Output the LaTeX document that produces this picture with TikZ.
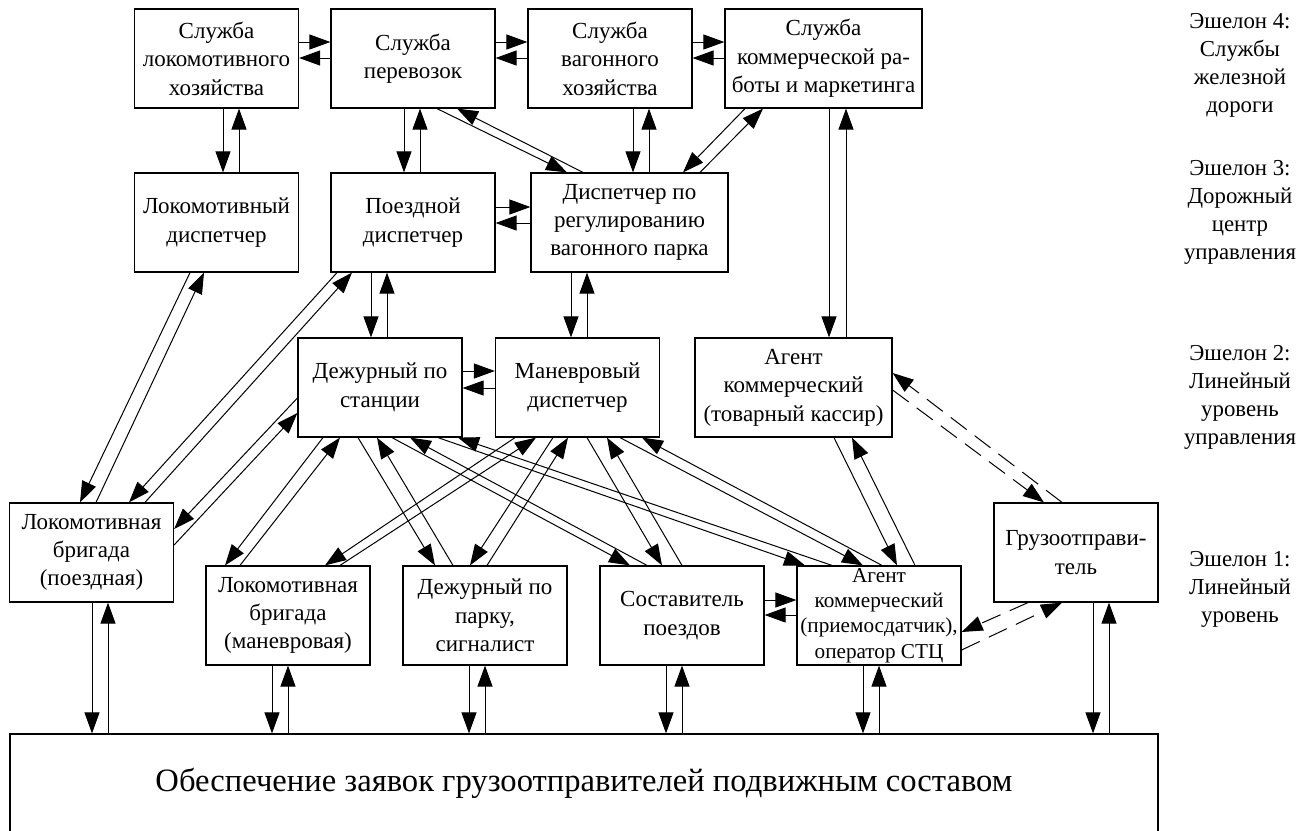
\documentclass[tikz,border=0pt]{standalone}
\usepackage{fontspec}
\setmainfont{Liberation Serif}
\usetikzlibrary{arrows.meta,calc}
\begin{document}
\begin{tikzpicture}[x=0.5pt,y=-0.5pt,
  box/.style={draw,line width=0.6pt,minimum width=82pt,minimum height=49.5pt,inner sep=1pt,align=center,font=\fontsize{11.5}{14.2}\selectfont},
  wbox/.style={box,minimum width=98.5pt},
  arr/.style={-{Triangle[length=10.5pt,width=7.5pt]},line width=0.5pt},
  darr/.style={arr,dash pattern=on 10pt off 5pt},
  lbl/.style={align=center,font=\fontsize{11.4}{14}\selectfont}]
\useasboundingbox (0,0) rectangle (1314,831);
% echelon 4
\node[box]  (S1) at (216.5,58.5) {Служба\\локомотивного\\хозяйства};
\node[box]  (S2) at (413,58.5)   {Служба\\перевозок};
\node[box]  (S3) at (610,58.5)   {Служба\\вагонного\\хозяйства};
\node[wbox] (S4) at (823.5,58.5) {Служба\\коммерческой ра-\\боты и маркетинга};
% echelon 3
\node[box]  (D1) at (216.5,222.5) {Локомотивный\\диспетчер};
\node[box]  (D2) at (413,222.5)   {Поездной\\диспетчер};
\node[wbox] (D3) at (629.5,222.5) {Диспетчер по\\регулированию\\вагонного парка};
% echelon 2
\node[box]  (L1) at (380,387.5)   {Дежурный по\\станции};
\node[box]  (L2) at (577.5,387.5) {Маневровый\\диспетчер};
\node[wbox] (L3) at (793.5,387.5) {Агент\\коммерческий\\(товарный кассир)};
% echelon 1
\node[box] (B1) at (91.5,552.5) {Локомотивная\\бригада\\(поездная)};
\node[box] (B2) at (288,615.5)  {Локомотивная\\бригада\\(маневровая)};
\node[box] (B3) at (485,615.5)  {Дежурный по\\парку,\\сигналист};
\node[box] (B4) at (682,615.5)  {Составитель\\поездов};
\node[box,font=\fontsize{10.6}{12.6}\selectfont] (B5) at (879,615.5) {Агент\\коммерческий\\(приемосдатчик),\\оператор СТЦ};
\node[box] (G)  at (1076,552.5) {Грузоотправи-\\тель};
% bottom
\node[box,minimum width=574pt,font=\fontsize{16.3}{19}\selectfont] (BT) at (584,783.5) {Обеспечение заявок грузоотправителей подвижным составом};
% labels
\node[lbl] (E4) at (1240,65)  {Эшелон 4:\\Службы\\железной\\дороги};
\node[lbl] (E3) at (1240,212) {Эшелон 3:\\Дорожный\\центр\\управления};
\node[lbl] (E2) at (1240,397) {Эшелон 2:\\Линейный\\уровень\\управления};
\node[lbl] (E1) at (1240,589) {Эшелон 1:\\Линейный\\уровень};
% horizontal pairs
\draw[arr] (S1.east |- 0,42) -- (S2.west |- 0,42);
\draw[arr] (S2.west |- 0,58) -- (S1.east |- 0,58);
\draw[arr] (S2.east |- 0,42) -- (S3.west |- 0,42);
\draw[arr] (S3.west |- 0,58) -- (S2.east |- 0,58);
\draw[arr] (S3.east |- 0,42) -- (S4.west |- 0,42);
\draw[arr] (S4.west |- 0,58) -- (S3.east |- 0,58);
\draw[arr] (D2.east |- 0,207) -- (D3.west |- 0,207);
\draw[arr] (D3.west |- 0,223) -- (D2.east |- 0,223);
\draw[arr] (L1.east |- 0,371) -- (L2.west |- 0,371);
\draw[arr] (L2.west |- 0,388) -- (L1.east |- 0,388);
\draw[arr] (B4.east |- 0,600) -- (B5.west |- 0,600);
\draw[arr] (B5.west |- 0,615) -- (B4.east |- 0,615);
% vertical pairs
\draw[arr] (S1.south -| 223,0) -- (D1.north -| 223,0);
\draw[arr] (D1.north -| 239,0) -- (S1.south -| 239,0);
\draw[arr] (S2.south -| 404,0) -- (D2.north -| 404,0);
\draw[arr] (D2.north -| 420,0) -- (S2.south -| 420,0);
\draw[arr] (S3.south -| 633,0) -- (D3.north -| 633,0);
\draw[arr] (D3.north -| 649,0) -- (S3.south -| 649,0);
\draw[arr] (S4.south -| 829,0) -- (L3.north -| 829,0);
\draw[arr] (L3.north -| 846,0) -- (S4.south -| 846,0);
\draw[arr] (D2.south -| 371,0) -- (L1.north -| 371,0);
\draw[arr] (L1.north -| 387,0) -- (D2.south -| 387,0);
\draw[arr] (D3.south -| 571,0) -- (L2.north -| 571,0);
\draw[arr] (L2.north -| 587,0) -- (D3.south -| 587,0);
% to bottom box
\draw[arr] (B1.south -| 92,0) -- (BT.north -| 92,0);
\draw[arr] (BT.north -| 108,0) -- (B1.south -| 108,0);
\draw[arr] (B2.south -| 272,0) -- (BT.north -| 272,0);
\draw[arr] (BT.north -| 288,0) -- (B2.south -| 288,0);
\draw[arr] (B3.south -| 469,0) -- (BT.north -| 469,0);
\draw[arr] (BT.north -| 485,0) -- (B3.south -| 485,0);
\draw[arr] (B4.south -| 666,0) -- (BT.north -| 666,0);
\draw[arr] (BT.north -| 682,0) -- (B4.south -| 682,0);
\draw[arr] (B5.south -| 863,0) -- (BT.north -| 863,0);
\draw[arr] (BT.north -| 879,0) -- (B5.south -| 879,0);
\draw[arr] (G.south -| 1093,0) -- (BT.north -| 1093,0);
\draw[arr] (BT.north -| 1109,0) -- (G.south -| 1109,0);
% diagonals upper
\draw[arr] (S2.south -| 437,0) -- (D3.north -| 567,0);
\draw[arr] (D3.north -| 583,0) -- (S2.south -| 457,0);
\draw[arr] (S4.south -| 745,0) -- (D3.north -| 683,0);
\draw[arr] (D3.north -| 700,0) -- (S4.south -| 763,0);
% to B1
\draw[arr] (D1.south -| 190,0) -- (B1.north -| 80,0);
\draw[arr] (B1.north -| 96,0) -- (D1.south -| 204,0);
\draw[arr] (D2.south -| 337,0) -- (B1.north -| 129,0);
\draw[arr] (B1.north -| 145,0) -- (D2.south -| 352,0);
\draw[arr] (L1.west |- 0,398) -- (B1.east |- 0,529);
\draw[arr] (B1.east |- 0,545) -- (L1.west |- 0,413);
% L1 to row 1
\draw[arr] (L1.south -| 323,0) -- (B2.north -| 225,0);
\draw[arr] (B2.north -| 240,0) -- (L1.south -| 340,0);
\draw[arr] (L1.south -| 358,0) -- (B3.north -| 435,0);
\draw[arr] (B3.north -| 453,0) -- (L1.south -| 377,0);
\draw[arr] (L1.south -| 392,0) -- (B4.north -| 630,0);
\draw[arr] (B4.north -| 647,0) -- (L1.south -| 410,0);
\draw[arr] (L1.south -| 438,0) -- (B5.north -| 805,0);
\draw[arr] (B5.north -| 832,0) -- (L1.south -| 458,0);
% L2 to row 1
\draw[arr] (L2.south -| 515,0) -- (B2.north -| 325,0);
\draw[arr] (B2.north -| 340,0) -- (L2.south -| 536,0);
\draw[arr] (L2.south -| 553,0) -- (B3.north -| 470,0);
\draw[arr] (B3.north -| 487,0) -- (L2.south -| 568,0);
\draw[arr] (L2.south -| 587,0) -- (B4.north -| 662,0);
\draw[arr] (B4.north -| 682,0) -- (L2.south -| 607,0);
\draw[arr] (L2.south -| 620,0) -- (B5.north -| 863,0);
\draw[arr] (B5.north -| 882,0) -- (L2.south -| 642,0);
% L3 to B5
\draw[arr] (L3.south -| 834,0) -- (B5.north -| 897,0);
\draw[arr] (B5.north -| 915,0) -- (L3.south -| 852,0);
% dashed with shipper
\draw[darr] (L3.east |- 0,390) -- (G.north -| 1044,0);
\draw[darr] (G.north -| 1062,0) -- (L3.east |- 0,373);
\draw[darr] (G.south -| 1028,0) -- (B5.east |- 0,632);
\draw[darr] (B5.east |- 0,650) -- (G.south -| 1062,0);
\end{tikzpicture}
\end{document}
